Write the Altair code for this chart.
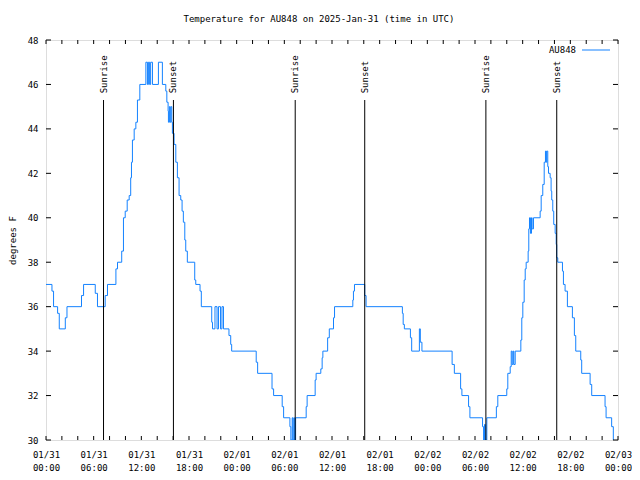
import altair as alt
import pandas as pd
from datetime import datetime, timedelta, timezone

# ---- data (hour offsets from 2025-01-31 00:00 UTC, temperature in F) ----
HOURS = [0.0, 0.75, 0.95, 1.46, 1.67, 2.43, 2.64, 4.47, 4.73, 6.20, 6.48, 7.45, 7.74, 8.80, 9.00,
         9.53, 9.75, 9.97, 10.22, 10.47, 10.66, 10.76, 10.88, 11.10, 11.31, 11.51, 11.81,
         12.57, 12.77, 12.89, 13.04, 13.17, 13.40, 14.15, 14.65, 15.08, 15.21, 15.37, 15.41,
         15.53, 15.62, 15.71, 15.83, 15.91, 16.12, 16.34, 16.54, 16.75, 16.96, 17.13, 17.29,
         17.47, 17.59, 17.79, 18.72, 18.85, 19.39, 19.55, 20.86, 20.96, 21.27, 21.53, 21.71,
         21.97, 22.15, 22.34, 23.03, 23.25, 23.37,
         26.46, 26.64, 28.45, 28.65, 29.73, 29.91, 30.70, 30.82, 30.99, 31.08, 31.20, 31.29,
         31.42, 32.75, 32.87, 33.88, 34.00, 34.59, 34.76, 34.85, 35.45, 35.66, 36.19, 36.32,
         38.62, 38.70, 38.83, 40.12, 40.29, 44.86, 44.96, 45.11, 45.87, 46.03, 47.00, 47.12, 47.32,
         51.12, 51.40, 52.19, 52.35, 53.19, 53.36, 54.95, 55.08, 55.20, 55.29, 55.49, 56.69,
         56.87, 58.00, 58.13, 58.43, 58.56, 58.68, 58.81, 58.89, 59.06, 59.77, 59.89, 60.02,
         60.19, 60.32, 60.44, 60.69, 60.77, 60.86, 60.98, 61.11, 61.19, 61.36, 62.20, 62.33,
         62.53, 62.71, 62.87, 62.96, 63.03, 63.16, 63.25, 63.46, 63.58, 63.66, 63.79, 63.91,
         64.09, 64.22, 64.29, 64.42, 65.01, 65.13, 65.34, 65.63, 66.26, 66.51, 66.68, 67.31,
         67.43, 68.49, 68.69, 70.37, 70.50, 71.20, 71.41]

TEMPS = [37.0, 36.7, 36.0, 35.7, 35.0, 35.5, 36.0, 36.5, 37.0, 36.6, 36.0, 36.5, 37.0, 37.7, 38.0,
         38.5, 40.0, 40.3, 40.8, 41.0, 41.8, 42.5, 43.5, 44.0, 44.3, 45.3, 46.0,
         47.0, 46.0, 47.0, 46.0, 47.0, 46.0, 47.0, 46.0, 45.7, 45.2, 44.8, 44.3,
         45.0, 44.3, 45.0, 44.3, 43.8, 43.3, 42.5, 41.8, 41.0, 40.8, 40.3, 39.8,
         39.0, 38.5, 38.0, 37.2, 37.0, 36.7, 36.0, 35.3, 35.0, 36.0, 35.0, 36.0,
         35.0, 36.0, 35.0, 34.7, 34.3, 34.0,
         33.5, 33.0, 32.3, 32.0, 31.5, 31.0, 30.6, 30.0, 31.0, 30.0, 31.0, 30.0,
         31.0, 31.5, 32.0, 32.7, 33.0, 33.2, 33.7, 34.0, 34.6, 35.0, 35.5, 36.0,
         36.3, 36.7, 37.0, 36.5, 36.0, 35.7, 35.2, 35.0, 34.6, 34.0, 35.0, 34.4, 34.0,
         33.4, 33.0, 32.3, 32.0, 31.5, 31.0, 30.6, 30.0, 30.7, 30.0, 31.0, 31.5,
         32.0, 32.3, 33.0, 33.3, 34.0, 33.4, 34.0, 33.4, 34.0, 34.5, 35.5, 36.2,
         37.2, 37.7, 38.0, 38.5, 39.5, 40.0, 39.3, 40.0, 39.5, 40.0, 40.3, 41.0,
         41.5, 42.5, 43.0, 42.5, 43.0, 42.3, 42.0, 41.8, 41.2, 40.8, 40.3, 39.7,
         39.3, 38.8, 38.2, 38.0, 37.6, 37.0, 36.7, 36.0, 35.5, 34.7, 34.0, 33.6,
         33.0, 32.5, 32.0, 31.5, 31.0, 30.6, 30.0]

SUN_HOURS = [7.24, 16.04, 31.37, 40.12, 55.37, 64.29]
SUN_LABELS = ["Sunrise", "Sunset", "Sunrise", "Sunset", "Sunrise", "Sunset"]

X_TICK_HOURS = list(range(0, 73, 2))      # small tick marks every 2 h
X_LABEL_HOURS = list(range(0, 73, 6))     # labelled every 6 h
Y_TICKS = [30, 32, 34, 36, 38, 40, 42, 44, 46, 48]

assert len(HOURS) == len(TEMPS)

BASE = datetime(2025, 1, 31, tzinfo=timezone.utc)
BASE_MS = int(BASE.timestamp() * 1000)


def iso(h):
    return (BASE + timedelta(hours=h)).strftime("%Y-%m-%dT%H:%M:%SZ")


def ms(h):
    return BASE_MS + int(round(h * 3600000))


temp_df = pd.DataFrame({"t": [iso(h) for h in HOURS], "temp": TEMPS})
sun_df = pd.DataFrame({"t": [iso(h) for h in SUN_HOURS], "label": SUN_LABELS})
xt_df = pd.DataFrame({"t": [iso(h) for h in X_TICK_HOURS]})
yt_df = pd.DataFrame({"v": Y_TICKS})

LINE_COLOR = "#1482ff"
FONT = "DejaVu Sans Mono"
W, H = 572, 400

x_scale = alt.Scale(type="utc", domain=[ms(0), ms(72)], nice=False)
y_scale = alt.Scale(domain=[30, 48], nice=False, zero=False)

label_expr = "[utcFormat(datum.value, '%m/%d'), utcFormat(datum.value, '%H:%M')]"

x_axis = alt.Axis(values=[ms(h) for h in X_LABEL_HOURS], labelExpr=label_expr, ticks=False,
                  domain=False, grid=False, title=None, labelFont=FONT, labelFontSize=9,
                  labelColor="black", labelPadding=10, labelOverlap=False, labelFlush=False,
                  labelLineHeight=13, labelBound=False)
y_axis = alt.Axis(values=Y_TICKS, ticks=False, domain=False, grid=False, title="degrees F",
                  labelFont=FONT, labelFontSize=9, labelColor="black", labelPadding=8,
                  titleFont=FONT, titleFontSize=9, titleFontWeight="normal",
                  titleColor="black", titlePadding=10)

line = alt.Chart(temp_df).mark_line(interpolate="step-after", color=LINE_COLOR,
                                    strokeWidth=1, clip=True).encode(
    x=alt.X("t:T", scale=x_scale, axis=x_axis),
    y=alt.Y("temp:Q", scale=y_scale, axis=y_axis),
)

sun_rules = alt.Chart(sun_df).mark_rule(color="black", strokeWidth=1).encode(
    x=alt.X("t:T", scale=x_scale),
    y=alt.datum(30),
    y2=alt.datum(45.3),
)

sun_text = alt.Chart(sun_df).mark_text(angle=270, align="left", baseline="middle",
                                       font=FONT, fontSize=9, color="black").encode(
    x=alt.X("t:T", scale=x_scale),
    y=alt.datum(45.6),
    text="label:N",
)

xt_bottom = alt.Chart(xt_df).mark_rule(color="black").encode(
    x=alt.X("t:T", scale=x_scale), y=alt.value(H), y2=alt.value(H - 4))
xt_top = alt.Chart(xt_df).mark_rule(color="black").encode(
    x=alt.X("t:T", scale=x_scale), y=alt.value(0), y2=alt.value(4))
yt_left = alt.Chart(yt_df).mark_rule(color="black").encode(
    y=alt.Y("v:Q", scale=y_scale), x=alt.value(0), x2=alt.value(5))
yt_right = alt.Chart(yt_df).mark_rule(color="black").encode(
    y=alt.Y("v:Q", scale=y_scale), x=alt.value(W - 5), x2=alt.value(W))

leg_df = pd.DataFrame({"name": ["AU848"]})
leg_text = alt.Chart(leg_df).mark_text(align="right", baseline="middle", font=FONT,
                                       fontSize=9, color="black").encode(
    x=alt.value(530), y=alt.value(10), text="name:N")
leg_line = alt.Chart(leg_df).mark_rule(color=LINE_COLOR, strokeWidth=1).encode(
    x=alt.value(536), x2=alt.value(564), y=alt.value(10))

chart = alt.layer(
    line, sun_rules, sun_text, xt_bottom, xt_top, yt_left, yt_right, leg_text, leg_line
).properties(
    width=W, height=H,
    title=alt.TitleParams("Temperature for AU848 on 2025-Jan-31 (time in UTC)", font=FONT,
                          fontSize=9, fontWeight="normal", color="black", anchor="middle",
                          dx=-13, offset=12),
    padding={"left": 38, "top": 32, "right": 14, "bottom": 38},
    autosize="none",
).configure_view(stroke="black", strokeWidth=1).configure(background="white")

chart.save("out.html", embed_options={"renderer": "svg", "actions": False})
